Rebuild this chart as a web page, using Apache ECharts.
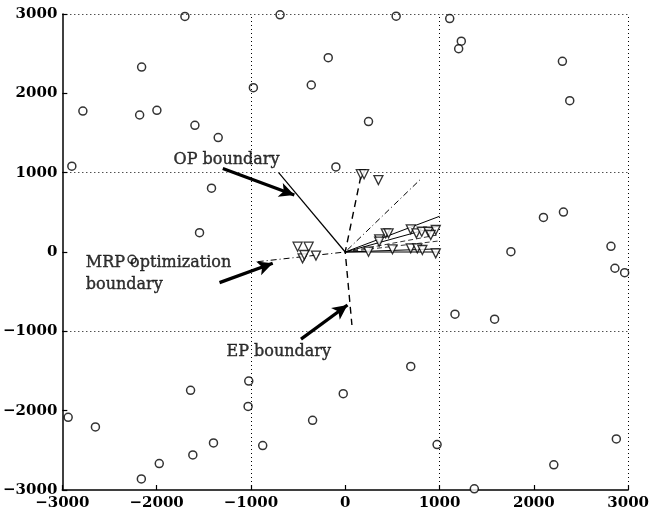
<!DOCTYPE html>
<html>
<head>
<meta charset="utf-8">
<script src="https://cdn.jsdelivr.net/npm/echarts@6/dist/echarts.min.js"></script>
<style>
  html, body { margin: 0; padding: 0; background: #fff; }
  #chart { width: 652px; height: 519px; }
</style>
</head>
<body>
<div id="chart"></div>
<script>
// axis setup
var axisMin = -3000, axisMax = 3000, tickStep = 1000;
var gridX = [-1000, 1000, 3000];   // dotted grid lines
var gridY = [-1000, 1000, 3000];

// circles (outside points)
var circles = [[-2899,1082],[-2782,1777],[-2159,2331],[-2180,1727],[-1997,1786],[-1700,2969],
  [-1594,1597],[-1347,1443],[-1418,805],[-1545,243],[-974,2071],[-691,2990],[-360,2105],
  [-180,2449],[540,2973],[247,1644],[-99,1073],[1108,2943],[1231,2658],[1203,2562],
  [2303,2403],[2381,1908],[2102,436],[2314,503],[1757,4],[2818,72],[2860,-205],[2963,-260],
  [1164,-784],[1584,-847],[695,-1442],[-21,-1786],[974,-2428],[2875,-2356],[2212,-2683],
  [1369,-2985],[-2938,-2084],[-2649,-2205],[-1640,-1744],[-1023,-1627],[-1030,-1946],
  [-346,-2122],[-875,-2440],[-1397,-2407],[-1616,-2558],[-1972,-2667],[-2162,-2860],[-2261,-92]];

// triangles (points near boundaries)
var triangles = [[-505,67],[-388,67],[-452,-80],[-310,-46],[-434,-38],[165,981],[200,981],
  [352,906],[430,235],[460,235],[360,160],[247,4],[501,34],[695,285],[755,235],[811,255],
  [882,255],[960,277],[907,214],[695,46],[765,46],[818,25],[960,-17],[360,130]];

// boundaries
var opLine = [[0,0],[-706,1000]];
var epLine = [[165,950],[0,0],[71,-920]];
var mrpLine = [[-928,-122],[0,0],[810,930]];
var fanSolid = [[1000,450],[1000,330],[1000,40],[1000,0]];
var fanDashed = [[1000,220],[1000,140]];

// annotations: [text, x, y]
var labels = [
  ['OP boundary', -1820, 1157],
  ['MRP optimization', -2751, -138],
  ['boundary', -2751, -415],
  ['EP boundary', -1259, -1258]
];
// arrows: [from, to]
var arrows = [
  [[-1298,1053],[-540,717]],
  [[-1333,-386],[-769,-142]],
  [[-469,-1098],[24,-667]]
];

var myChart = echarts.init(document.getElementById('chart'));

var tickFont = { fontFamily: 'DejaVu Serif', fontWeight: 'bold', fontSize: 15, color: '#000' };
function fmt(v) { return String(v).replace('-', '\u2212'); }

var series = [];
// grid lines
series.push({
  type: 'line', data: [], silent: true,
  markLine: {
    silent: true, symbol: ['none', 'none'], label: { show: false },
    lineStyle: { color: '#000', type: [1, 3], width: 1 },
    data: gridX.map(function (v) { return { xAxis: v }; })
      .concat(gridY.map(function (v) { return { yAxis: v }; }))
  }
});
// boundary lines
function lineSeries(pts, style) {
  return { type: 'line', data: pts, symbol: 'none', silent: true, lineStyle: style, z: 3 };
}
series.push(lineSeries(opLine, { color: '#000', width: 1.2 }));
series.push(lineSeries(epLine, { color: '#000', width: 1.4, type: [7, 5] }));
series.push(lineSeries(mrpLine, { color: '#000', width: 1, type: [6, 3, 1, 3] }));
fanSolid.forEach(function (p) {
  series.push(lineSeries([[0,0], p], { color: '#000', width: 1 }));
});
fanDashed.forEach(function (p) {
  series.push(lineSeries([[0,0], p], { color: '#000', width: 0.8, type: [5, 3] }));
});
// markers
series.push({
  type: 'scatter', data: circles, symbol: 'circle', symbolSize: 8, clip: false,
  itemStyle: { color: '#fff', borderColor: '#000', borderWidth: 1.5 }, z: 4
});
series.push({
  type: 'scatter', data: triangles, symbol: 'triangle', symbolRotate: 180, symbolSize: 9,
  itemStyle: { color: '#fff', borderColor: '#000', borderWidth: 1.3 }, z: 5
});
// arrows
series.push({
  type: 'line', data: [], silent: true,
  markLine: {
    silent: true, symbol: ['none', 'arrow'], symbolSize: [11, 15], label: { show: false },
    lineStyle: { color: '#000', type: 'solid', width: 3.2 },
    data: arrows.map(function (a) { return [{ coord: a[0] }, { coord: a[1] }]; })
  },
  z: 6
});
// annotation text
series.push({
  type: 'scatter', symbolSize: 0, silent: true, clip: false,
  data: labels.map(function (l) { return { value: [l[1], l[2]], name: l[0] }; }),
  label: {
    show: true, position: 'right', distance: 0, formatter: '{b}',
    fontFamily: 'DejaVu Serif', fontSize: 16, color: '#000',
    textBorderColor: '#000', textBorderWidth: 0.4
  },
  z: 7
});

var option = {
  backgroundColor: '#fff',
  animation: false,
  grid: { left: 62, right: 20, top: 14, bottom: 29 },
  xAxis: {
    type: 'value', min: axisMin, max: axisMax, interval: tickStep,
    axisLine: { show: true, onZero: false, lineStyle: { color: '#000', width: 1.5 } },
    axisTick: { show: true, inside: true, length: 5, lineStyle: { color: '#000', width: 1.2 } },
    axisLabel: Object.assign({ margin: 6, formatter: fmt }, tickFont),
    splitLine: { show: false }
  },
  yAxis: {
    type: 'value', min: axisMin, max: axisMax, interval: tickStep,
    axisLine: { show: true, onZero: false, lineStyle: { color: '#000', width: 1.5 } },
    axisTick: { show: true, inside: true, length: 5, lineStyle: { color: '#000', width: 1.2 } },
    axisLabel: Object.assign({ margin: 5, formatter: fmt }, tickFont),
    splitLine: { show: false }
  },
  series: series
};
myChart.setOption(option);
</script>
</body>
</html>
